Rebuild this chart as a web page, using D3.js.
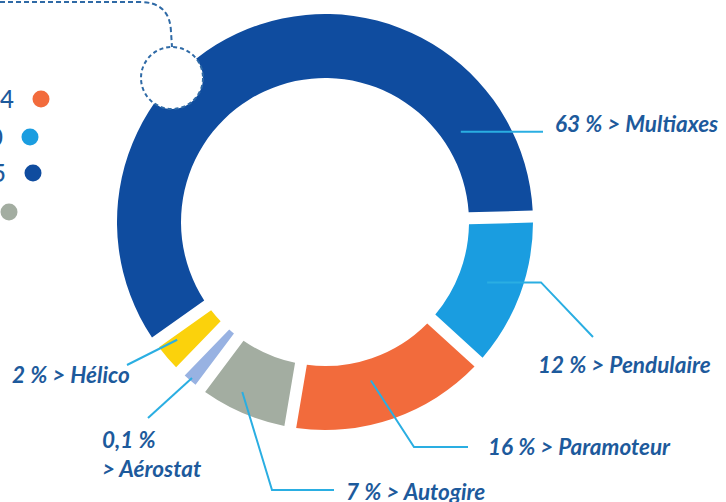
<!DOCTYPE html>
<html>
<head>
<meta charset="utf-8">
<script src="https://cdn.jsdelivr.net/npm/d3@7"></script>
<style>
  body { margin: 0; background: #fff; }
  svg text { font-family: Lato, "Open Sans", sans-serif; font-weight: 700; font-style: italic; fill: #1d5a9c; }
</style>
</head>
<body>
<svg width="726" height="502"></svg>
<script>
// donut data (share of each category, %)
let categories = ["Pendulaire", "Paramoteur", "Autogire", "Aérostat", "Hélico", "Multiaxes"];
let values = [12, 16, 7, 0.1, 2, 63];
let colors = ["#1a9de0", "#f26b3c", "#a3ada1", "#98b2e2", "#fbd20c", "#0f4c9f"];

// partial legend on the left edge (cut off in the source)
let legendLabels = ["2014", "2010", "2015", "2012"];
let legendColors = ["#f26b3c", "#1a9de0", "#0f4c9f", "#a3ada1"];

let svg = d3.select("svg");
let cx = 325, cy = 222;
let outerR = 208, innerR = 144;

let fmt = v => String(v).replace(".", ",");

let pie = d3.pie()
    .sort(null)
    .value(d => Math.max(d.value, 1)) // tiny share still drawn as a sliver
    .startAngle(88.5 * Math.PI / 180)
    .endAngle(88.5 * Math.PI / 180 + 2 * Math.PI)
    .padAngle(0.068);

let arc = d3.arc()
    .innerRadius(innerR)
    .outerRadius(outerR)
    .padRadius(176);

let data = categories.map((c, i) => ({ cat: c, value: values[i], color: colors[i] }));
let arcs = pie(data);

let g = svg.append("g")
    .attr("transform", "translate(" + cx + "," + cy + ")");

g.selectAll(".slice")
    .data(arcs)
    .enter().append("path")
    .attr("class", "slice")
    .attr("d", arc)
    .attr("fill", d => d.data.color);

// leader lines + labels (layout only)
let layout = {
    "Multiaxes":  { t: 0.85, r: 163, hx: 543, pts: [], text: [555, 132] },
    "Pendulaire": { t: 0.5, r: 173, hx: 541, pts: [[593, 337]], text: [538, 373] },
    "Paramoteur": { t: 0.55, r: 165, pts: [[414, 447], [468, 447]], text: [488, 455] },
    "Autogire":   { t: 0.6, r: 189, pts: [[272, 490], [334, 490]], text: [346, 500] },
    "Aérostat":   { t: 0.5, r: 205, pts: [[148, 418]], text: [102, 448], split: true },
    "Hélico":     { t: 0.7, r: 189, pts: [[127, 365]], text: [12, 383] }
};

let line = d3.line();
arcs.forEach(a => {
    let L = layout[a.data.cat];
    let ang = a.startAngle + L.t * (a.endAngle - a.startAngle);
    let sx = cx + L.r * Math.sin(ang);
    let sy = cy - L.r * Math.cos(ang);
    let pts = [[sx, sy]];
    if (L.hx) pts.push([L.hx, sy]);
    pts = pts.concat(L.pts);
    svg.append("path")
        .attr("d", line(pts))
        .attr("fill", "none")
        .attr("stroke", "#2aaee2")
        .attr("stroke-width", 2);

    let pct = fmt(a.data.value) + "\u202F%";
    let t = svg.append("text")
        .attr("x", L.text[0])
        .attr("y", L.text[1])
        .attr("font-size", 22.5);
    if (L.split) {
        t.append("tspan").attr("x", L.text[0]).text(pct);
        t.append("tspan").attr("x", L.text[0]).attr("dy", 29).text("> " + a.data.cat);
    } else {
        t.text(pct + " > " + a.data.cat);
    }
});

// legend remnants
let legend = svg.append("g");
let legendY = [99, 137, 173, 212];
let legendX = [41, 30, 33, 9];
legendLabels.forEach((lab, i) => {
    legend.append("circle")
        .attr("cx", legendX[i]).attr("cy", legendY[i]).attr("r", 8.5)
        .attr("fill", legendColors[i]);
    legend.append("text")
        .attr("x", legendX[i] - 27).attr("y", legendY[i] + 8.5)
        .attr("text-anchor", "end")
        .attr("font-size", 24)
        .style("font-style", "normal")
        .style("font-weight", 500)
        .text(lab);
});

// dashed callout into the ring
svg.append("path")
    .attr("d", "M0,2 L140,2 Q170,2 171,32 L172,47")
    .attr("fill", "none")
    .attr("stroke", "#2f6aa6")
    .attr("stroke-width", 2)
    .attr("stroke-dasharray", "5,3");
svg.append("circle")
    .attr("cx", 172).attr("cy", 78).attr("r", 31)
    .attr("fill", "#fff")
    .attr("stroke", "#2f6aa6")
    .attr("stroke-width", 2)
    .attr("stroke-dasharray", "4,3");
</script>
</body>
</html>
